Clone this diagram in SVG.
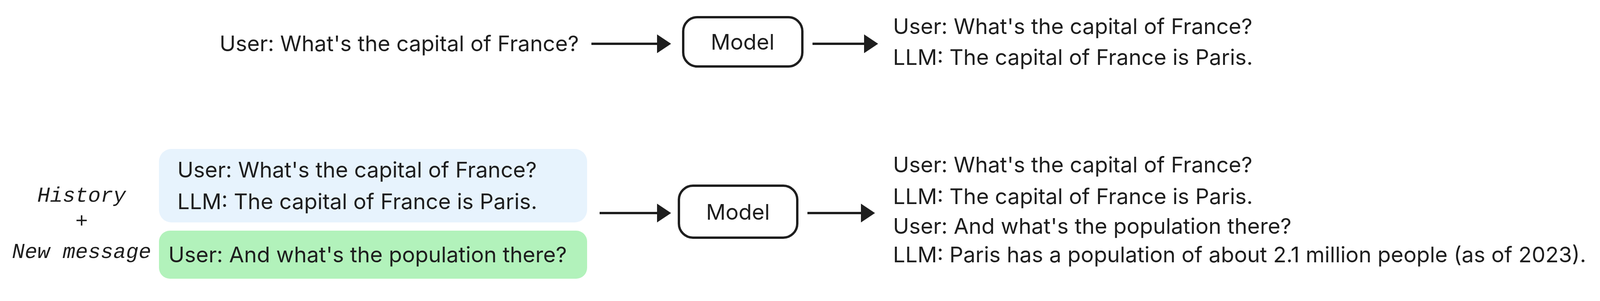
<svg xmlns="http://www.w3.org/2000/svg" width="4254" height="770" viewBox="0 0 4254 770">
<style>
.t{font-family:Inter,"Open Sans",sans-serif;font-size:55.5px;fill:#1e1e1e}
.h{font-family:"Liberation Mono","DejaVu Sans Mono",monospace;font-size:54px;fill:#1e1e1e;font-style:italic}
.box{fill:#fff;stroke:#1e1e1e;stroke-width:6}
.c{stroke:#1e1e1e;stroke-width:6;fill:none;marker-end:url(#a)}
</style>
<defs><marker id="a" markerWidth="6" markerHeight="8" refX="5" refY="4" orient="auto" markerUnits="strokeWidth"><path d="M0,0 L6,4 L0,8 Z" fill="#1e1e1e"/></marker></defs>
<rect width="4254" height="770" fill="#fff"/>
<g id="q1"><text class="t" x="1482" y="131" text-anchor="end">User: What's the capital of France?</text></g>
<g id="m1"><rect class="box" x="1749" y="44" width="305" height="126" rx="36"/><text class="t" x="1901" y="127" text-anchor="middle">Model</text></g>
<g id="o1"><text class="t" x="2286" y="87">User: What's the capital of France?</text><text class="t" x="2286" y="166">LLM: The capital of France is Paris.</text></g>
<g id="hist"><text class="h" x="209" y="516" text-anchor="middle">History</text><text class="h" x="209" y="582" text-anchor="middle">+</text><text class="h" x="209" y="660" text-anchor="middle">New message</text></g>
<g id="b1"><rect x="407" y="381" width="1096" height="188" rx="32" fill="#e7f3fd"/><text class="t" x="454" y="454">User: What's the capital of France?</text><text class="t" x="454" y="535">LLM: The capital of France is Paris.</text></g>
<g id="b2"><rect x="407" y="590" width="1096" height="123" rx="28" fill="#b2f2bb"/><text class="t" x="431" y="671">User: And what's the population there?</text></g>
<g id="m2"><rect class="box" x="1738" y="475" width="303" height="133" rx="36"/><text class="t" x="1889" y="562" text-anchor="middle">Model</text></g>
<g id="o2"><text class="t" x="2286" y="441">User: What's the capital of France?</text><text class="t" x="2286" y="522">LLM: The capital of France is Paris.</text><text class="t" x="2286" y="598">User: And what's the population there?</text><text class="t" x="2286" y="671">LLM: Paris has a population of about 2.1 million people (as of 2023).</text></g>
<g id="connectors">
<path class="c" d="M1514,112 L1712,112"/>
<path class="c" d="M2080,112 L2242,112"/>
<path class="c" d="M1535,545 L1712,545"/>
<path class="c" d="M2067,545 L2234,545"/>
</g>
</svg>
